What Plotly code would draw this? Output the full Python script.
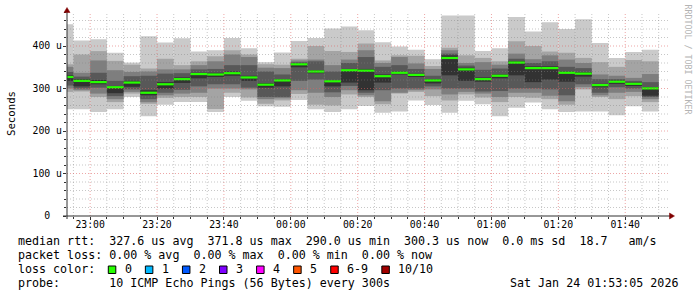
import plotly.graph_objects as go
from datetime import datetime, timedelta

# ---------------- data ----------------
# start of each 5-minute step
STEP_STARTS = [
    "2026-01-23 22:50", "2026-01-23 22:55",
    "2026-01-23 23:00", "2026-01-23 23:05", "2026-01-23 23:10", "2026-01-23 23:15",
    "2026-01-23 23:20", "2026-01-23 23:25", "2026-01-23 23:30", "2026-01-23 23:35",
    "2026-01-23 23:40", "2026-01-23 23:45", "2026-01-23 23:50", "2026-01-23 23:55",
    "2026-01-24 00:00", "2026-01-24 00:05", "2026-01-24 00:10", "2026-01-24 00:15",
    "2026-01-24 00:20", "2026-01-24 00:25", "2026-01-24 00:30", "2026-01-24 00:35",
    "2026-01-24 00:40", "2026-01-24 00:45", "2026-01-24 00:50", "2026-01-24 00:55",
    "2026-01-24 01:00", "2026-01-24 01:05", "2026-01-24 01:10", "2026-01-24 01:15",
    "2026-01-24 01:20", "2026-01-24 01:25", "2026-01-24 01:30", "2026-01-24 01:35",
    "2026-01-24 01:40", "2026-01-24 01:45",
]

# sorted ping round-trip times per step, in microseconds (ping 1 = fastest ... ping 10 = slowest)
PING1 = [251, 251, 245, 251, 280, 235, 262, 268, 268, 245, 280, 271, 258, 257, 273, 251, 245, 251,
         259, 243, 246, 272, 261, 243, 271, 263, 235, 255, 267, 251, 245, 246, 246, 237, 258, 246]
PING2 = [292, 293, 280, 268, 288, 264, 278, 280, 280, 252, 290, 279, 264, 272, 287, 262, 260, 286,
         280, 263, 288, 292, 282, 272, 286, 279, 268, 280, 278, 275, 262, 298, 280, 275, 282, 268]
PING3 = [300, 296, 288, 275, 292, 268, 284, 288, 290, 300, 300, 298, 275, 277, 296, 290, 280, 296,
         284, 270, 290, 296, 298, 286, 292, 288, 280, 290, 290, 283, 270, 303, 284, 290, 292, 275]
PING4 = [307, 300, 302, 282, 298, 275, 290, 297, 305, 310, 310, 302, 280, 280, 318, 321, 291, 306,
         290, 296, 300, 300, 305, 300, 300, 293, 294, 300, 300, 298, 284, 310, 290, 303, 300, 280]
PING5 = [318, 305, 310, 289, 304, 284, 300, 313, 324, 327, 330, 318, 302, 305, 350, 336, 305, 314,
         296, 314, 333, 327, 312, 331, 318, 316, 324, 331, 315, 321, 316, 328, 303, 311, 306, 283]
PING6 = [331, 322, 320, 306, 318, 296, 315, 326, 337, 337, 340, 330, 313, 322, 360, 343, 320, 346,
         346, 333, 340, 335, 322, 378, 349, 326, 333, 364, 352, 352, 340, 338, 311, 319, 314, 303]
PING7 = [339, 328, 337, 318, 329, 330, 335, 336, 345, 346, 355, 355, 340, 333, 362, 364, 340, 360,
         374, 351, 355, 346, 330, 382, 354, 344, 347, 370, 360, 364, 351, 348, 322, 322, 318, 315]
PING8 = [351, 337, 366, 343, 339, 340, 345, 345, 355, 364, 380, 374, 349, 348, 366, 368, 355, 368,
         390, 360, 374, 359, 346, 390, 360, 362, 356, 382, 369, 378, 368, 360, 333, 330, 325, 334]
PING9 = [357, 380, 388, 365, 356, 347, 370, 355, 364, 376, 390, 380, 357, 356, 370, 400, 388, 386,
         406, 366, 378, 377, 353, 396, 378, 372, 364, 411, 400, 387, 384, 372, 362, 351, 367, 364]
PING10 = [451, 413, 416, 384, 361, 423, 408, 418, 387, 390, 419, 395, 362, 385, 412, 419, 441, 446,
          437, 409, 399, 391, 369, 472, 472, 388, 395, 468, 434, 456, 440, 463, 407, 372, 386, 391]

MEDIAN = [327, 318, 315, 303, 314, 290.0, 310, 322, 334, 333, 336, 326, 309, 319, 357, 340, 317, 343,
          342, 329, 337, 332, 319, 371.8, 345, 322, 330, 361, 348, 348, 337, 335, 308, 316, 311, 300.3]

PINGS = [PING1, PING2, PING3, PING4, PING5, PING6, PING7, PING8, PING9, PING10]

X_START = "2026-01-23 22:53:05"
X_END = "2026-01-24 01:53:05"
Y_RANGE = [0, 480]
Y_TICKS = [0, 100, 200, 300, 400]
Y_TICK_TEXT = ["0\u00a0\u00a0", "100 u", "200 u", "300 u", "400 u"]

LOSS_LABELS = ["0", "1", "2", "3", "4", "5", "6-9", "10/10"]
LOSS_COLORS = ["#26ff00", "#00b8ff", "#0059ff", "#7e00ff", "#ff00ff", "#ff5500", "#ff0000", "#a10000"]

LINE1 = "median rtt:  327.6 us avg  371.8 us max  290.0 us min  300.3 us now  0.0 ms sd  18.7   am/s"
LINE2 = "packet loss: 0.00 % avg  0.00 % max  0.00 % min  0.00 % now"
LINE3 = "loss color:"
LINE4 = "probe:       10 ICMP Echo Pings (56 Bytes) every 300s"
DATE_TEXT = "Sat Jan 24 01:53:05 2026"
Y_TITLE = "Seconds"
WATERMARK = "RRDTOOL / TOBI OETIKER"

# ---------------- style ----------------
W, H = 697, 297
ML, MR, MT, MB = 67, 28, 12, 81
PW, PH = W - ML - MR, H - MT - MB
STEP_MS = 5 * 60 * 1000
SMOKE_COLORS = ["#cacaca", "#a4a4a4", "#7e7e7e", "#585858", "#323232"]
MEDIAN_HALF = 2.6
MONO = "DejaVu Sans Mono"
MINOR_GRID = "rgba(130,130,130,0.45)"
MAJOR_GRID = "rgba(222,95,95,0.55)"
AXIS_COLOR = "#303030"
ARROW_COLOR = "#800000"


def px(xp):
    return (xp - ML) / PW


def py(yp):
    return (H - MB - yp) / PH


def nb(s):
    return s.replace(" ", "\u00a0")


fig = go.Figure()

# smoke bands: ping i .. ping (11-i)
for i in range(5):
    lo = PINGS[i]
    hi = PINGS[9 - i]
    fig.add_trace(go.Bar(
        x=STEP_STARTS, base=lo, y=[h - l for h, l in zip(hi, lo)],
        width=STEP_MS, offset=0,
        marker=dict(color=SMOKE_COLORS[i], line=dict(width=0)),
        hoverinfo="skip", showlegend=False,
    ))

# median band coloured by loss (all 0 loss)
fig.add_trace(go.Bar(
    x=STEP_STARTS, base=[m - MEDIAN_HALF for m in MEDIAN], y=[2 * MEDIAN_HALF] * len(MEDIAN),
    width=STEP_MS, offset=0,
    marker=dict(color=LOSS_COLORS[0], line=dict(width=0)),
    hoverinfo="skip", showlegend=False,
))

shapes = []
# grid on top of the data (rrdtool style)
t0 = datetime(2026, 1, 23, 22, 55)
t_end = datetime(2026, 1, 24, 1, 53, 5)
t = t0
while t < t_end:
    major = (t.minute % 20 == 0)
    shapes.append(dict(type="line", xref="x", yref="paper", x0=t, x1=t, y0=0, y1=1,
                       line=dict(color=MAJOR_GRID if major else MINOR_GRID, width=1, dash="1px,2px"),
                       layer="above"))
    t += timedelta(minutes=5)
for v in range(20, 461, 20):
    major = (v % 100 == 0)
    shapes.append(dict(type="line", xref="paper", yref="y", x0=0, x1=1, y0=v, y1=v,
                       line=dict(color=MAJOR_GRID if major else MINOR_GRID, width=1, dash="1px,2px"),
                       layer="above"))

# axes lines with arrows
shapes.append(dict(type="line", xref="paper", yref="paper", x0=px(63), x1=px(670), y0=py(216), y1=py(216),
                   line=dict(color=AXIS_COLOR, width=1), layer="above"))
shapes.append(dict(type="line", xref="paper", yref="paper", x0=px(67), x1=px(67), y0=py(219), y1=py(11),
                   line=dict(color=AXIS_COLOR, width=1), layer="above"))
shapes.append(dict(type="path", xref="paper", yref="paper",
                   path=f"M {px(67)} {py(7.5)} L {px(64)} {py(12.5)} L {px(70)} {py(12.5)} Z",
                   fillcolor=ARROW_COLOR, line=dict(color=ARROW_COLOR, width=0.5), layer="above"))
shapes.append(dict(type="path", xref="paper", yref="paper",
                   path=f"M {px(674.5)} {py(216)} L {px(669.5)} {py(213)} L {px(669.5)} {py(219)} Z",
                   fillcolor=ARROW_COLOR, line=dict(color=ARROW_COLOR, width=0.5), layer="above"))

annotations = []
TXT = dict(family=MONO, size=11.66, color="black")
for text, yp in [(LINE1, 241), (LINE2, 255), (LINE3, 269), (LINE4, 283)]:
    annotations.append(dict(text=nb(text), xref="paper", yref="paper", x=px(16), y=py(yp),
                            xanchor="left", yanchor="middle", showarrow=False, font=TXT))
annotations.append(dict(text=nb(DATE_TEXT), xref="paper", yref="paper", x=px(680), y=py(283),
                        xanchor="right", yanchor="middle", showarrow=False, font=TXT))

# loss colour legend boxes
box_x = 108.3
for k, (lab, col) in enumerate(zip(LOSS_LABELS, LOSS_COLORS)):
    shapes.append(dict(type="rect", xref="paper", yref="paper",
                       x0=px(box_x), x1=px(box_x + 7.5), y0=py(273.5), y1=py(266),
                       fillcolor=col, line=dict(color="black", width=1), layer="above"))
    annotations.append(dict(text=nb(lab), xref="paper", yref="paper", x=px(box_x + 14.5), y=py(269),
                            xanchor="left", yanchor="middle", showarrow=False, font=TXT))
    box_x += 37.07 + 7.02 * (len(lab) - 1)

annotations.append(dict(text=Y_TITLE, xref="paper", yref="paper", x=px(11), y=py(114),
                        xanchor="center", yanchor="middle", textangle=-90, showarrow=False,
                        font=dict(family=MONO, size=10.7, color="black")))
annotations.append(dict(text=nb(WATERMARK), xref="paper", yref="paper", x=px(687.5), y=py(60),
                        xanchor="center", yanchor="middle", textangle=90, showarrow=False,
                        font=dict(family=MONO, size=8.3, color="#b4b4b4")))

x_ticks = []
t = datetime(2026, 1, 23, 23, 0)
while t < t_end:
    x_ticks.append(t)
    t += timedelta(minutes=20)

fig.update_layout(
    width=W, height=H,
    margin=dict(l=ML, r=MR, t=MT, b=MB, pad=0, autoexpand=False),
    paper_bgcolor="white", plot_bgcolor="white",
    barmode="overlay", showlegend=False,
    font=dict(family=MONO, size=9.8, color="black"),
    shapes=shapes, annotations=annotations,
    xaxis=dict(type="date", range=[X_START, X_END], tickvals=x_ticks, tickformat="%H:%M",
               showgrid=False, zeroline=False, showline=False,
               ticks="outside", ticklen=3, tickcolor=AXIS_COLOR, ticklabelstandoff=-4,
               minor=dict(dtick=STEP_MS, tick0="2026-01-23 22:55", ticks="outside", ticklen=2,
                          tickcolor=AXIS_COLOR, showgrid=False),
               tickfont=dict(family=MONO, size=9.8, color="black"), fixedrange=True),
    yaxis=dict(range=Y_RANGE, tickvals=Y_TICKS, ticktext=Y_TICK_TEXT,
               showgrid=False, zeroline=False, showline=False,
               ticks="outside", ticklen=3, tickcolor=AXIS_COLOR, ticklabelstandoff=-1,
               minor=dict(dtick=20, ticks="outside", ticklen=2, tickcolor=AXIS_COLOR, showgrid=False),
               tickfont=dict(family=MONO, size=9.8, color="black"), fixedrange=True),
)

fig.write_html("out.html")
